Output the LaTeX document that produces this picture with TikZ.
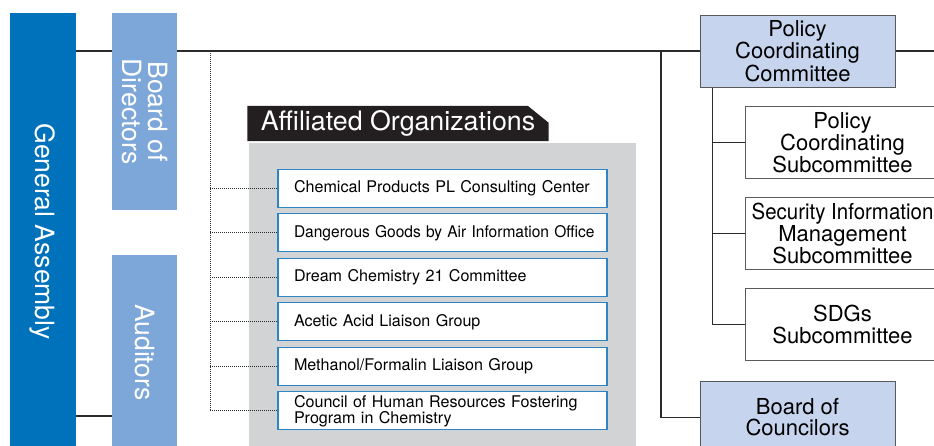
\documentclass[tikz,border=0pt]{standalone}
\usepackage{fontspec}
\usepackage{graphicx}
\setmainfont{TeX Gyre Heros}
\usetikzlibrary{
    positioning,      % relative placement of the boxes
    backgrounds,      % connectors behind the filled boxes
    calc
}
\definecolor{assemblyblue}{HTML}{0071BB}
\definecolor{boardblue}{HTML}{7DA7D9}
\definecolor{committeeblue}{HTML}{C6D4EE}
\definecolor{panelgray}{HTML}{D1D3D4}
\definecolor{orgblue}{HTML}{2F84C4}
\definecolor{headblack}{HTML}{231F20}
\definecolor{linedark}{HTML}{2B2B2B}
\definecolor{boxgray}{HTML}{5A5A5A}

\begin{document}
\begin{tikzpicture}[
    x=1pt, y=-1pt,
    % Global style settings
    line_style/.style={
        draw=linedark,
        line width=1.2pt
    },
    dot_style/.style={
        draw=linedark,
        dash pattern=on 1pt off 1pt,
        line width=1pt
    },
    side_box/.style={ % rotated blue bars on the left
        rotate=-90,
        text=white,
        inner sep=0pt,
        align=center,
        font=\fontsize{26.5pt}{26pt}\selectfont
    },
    org_box/.style={ % affiliated organization boxes
        draw=orgblue,
        line width=1.3pt,
        fill=white,
        text width=297pt,
        inner xsep=16pt,
        inner ysep=0pt,
        minimum height=38pt,
        align=left,
        font=\fontsize{16.1pt}{16pt}\selectfont
    },
    committee_box/.style={
        draw=boxgray,
        line width=0.9pt,
        fill=committeeblue,
        minimum width=195pt,
        minimum height=72pt,
        inner sep=0pt,
        align=center,
        font=\fontsize{22pt}{21pt}\selectfont
    },
    sub_box/.style={
        committee_box,
        fill=white,
        font=\fontsize{22pt}{22pt}\selectfont
    }
]
    \useasboundingbox (0,0) rectangle (934,446);
    \clip (0,0) rectangle (934,446);

    % 1. Left column: assembly, directors and auditors.
    \node[side_box, fill=assemblyblue, minimum width=437pt, minimum height=66pt] (assembly) at (43,231.5) {General Assembly};
    \node[side_box, fill=boardblue, minimum width=197pt, minimum height=65pt] (directors) at (144.5,111.5) {Board of\\Directors};
    \node[side_box, fill=boardblue, minimum width=195pt, minimum height=65pt] (auditors) at (144.5,352.5) {Auditors};

    % 2. Affiliated organizations panel and its header.
    \node[fill=panelgray, minimum width=387pt, minimum height=307pt, inner sep=0pt] (panel) at (442.5,296.5) {};
    \node[text=white, minimum width=301pt, minimum height=35pt, inner sep=0pt, font=\fontsize{26.8pt}{26pt}\selectfont] (affhead) at (398,123.5) {Affiliated Organizations};

    \node[org_box] (org1) at (442.5,188.3) {Chemical Products PL Consulting Center};
    \node[org_box, below=5.2pt of org1] (org2) {\scalebox{0.965}[1]{Dangerous Goods by Air Information Office}};
    \node[org_box, below=5.2pt of org2] (org3) {Dream Chemistry 21 Committee};
    \node[org_box, below=5.2pt of org3] (org4) {Acetic Acid Liaison Group};
    \node[org_box, below=5.2pt of org4] (org5) {Methanol/Formalin Liaison Group};
    \node[org_box, below=5.2pt of org5] (org6) {Council of Human Resources Fostering\\Program in Chemistry};

    % 3. Committees on the right.
    \node[committee_box] (policy) at (797.5,51) {Policy\\Coordinating\\Committee};
    \node[sub_box] (policysub) at (842.5,142.7) {Policy\\Coordinating\\Subcommittee};
    \node[sub_box, below=18pt of policysub] (security) {\scalebox{0.93}[1]{Security Information}\\Management\\Subcommittee};
    \node[sub_box, below=18pt of security] (sdgs) {SDGs\\Subcommittee};
    \node[committee_box] (councilors) at (797.5,417.5) {Board of\\Councilors};

    % 4. Free ends of the connectors.
    \coordinate (rightend) at (934,51);
    \coordinate (audlink) at (112,416);
    \coordinate (trunk) at (661,51);
    \coordinate (subtrunk) at ($(policy.south west)+(13,0)$);
    \coordinate (dottop) at (210,53);

    % 5. Dotted links to the affiliated organizations.
    \draw[dot_style] (dottop) |- (org6.west);
    \foreach \k in {1,...,5}
        \draw[dot_style] (dottop |- org\k.west) -- (org\k.west);

    % 6. Solid connectors, behind the boxes.
    \begin{pgfonlayer}{background}
        \fill[headblack] (affhead.south west) -- (affhead.north west)
            -- ([xshift=-21pt]affhead.north east) -- ([yshift=-17pt]affhead.north east)
            -- (affhead.south east) -- cycle;
        \draw[line_style] (assembly.north |- policy.west) -- (policy.west);
        \draw[line_style] (policy.east) -- (rightend);
        \draw[line_style] (assembly.north |- audlink) -- (audlink);
        \draw[line_style] (trunk) |- (councilors.west);
        \draw[line_style] (subtrunk) |- (sdgs.west);
        \draw[line_style] (subtrunk |- policysub.west) -- (policysub.west);
        \draw[line_style] (subtrunk |- security.west) -- (security.west);
    \end{pgfonlayer}
\end{tikzpicture}
\end{document}
